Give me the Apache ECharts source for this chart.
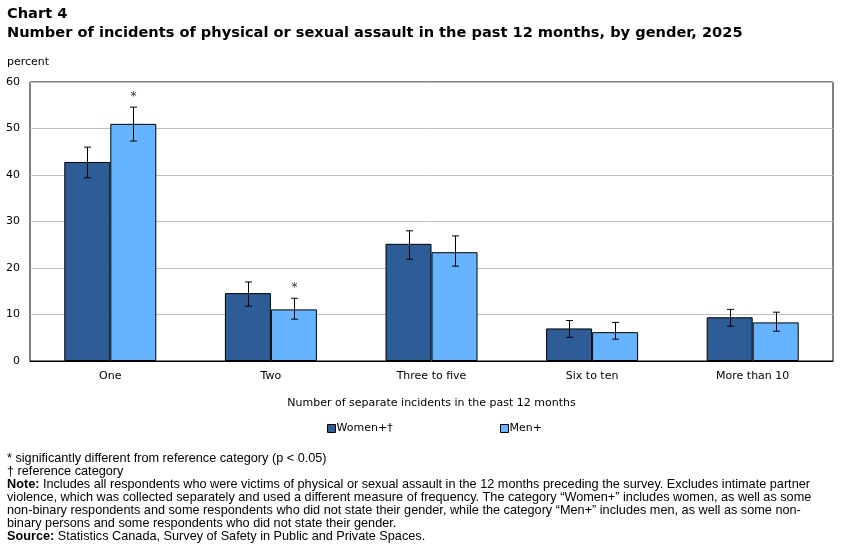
<!DOCTYPE html>
<html><head><meta charset="utf-8">
<script src="https://cdn.jsdelivr.net/npm/echarts@6/dist/echarts.min.js"></script>
<style>html,body{margin:0;padding:0;background:#fff}#c{width:850px;height:544px}</style>
</head><body><div id="c"></div>
<script>
const categories = ['One', 'Two', 'Three to five', 'Six to ten', 'More than 10'];
const women = [42.8, 14.6, 25.2, 7.0, 9.4];
const womenLow = [39.4, 11.8, 21.9, 5.1, 7.5];
const womenHigh = [46.0, 17.0, 28.0, 8.7, 11.1];
const men = [51.0, 11.1, 23.4, 6.2, 8.3];
const menLow = [47.3, 9.0, 20.4, 4.7, 6.4];
const menHigh = [54.6, 13.5, 26.9, 8.3, 10.5];
const menSig = ['*', '*', '', '', ''];
const yTicks = [0, 10, 20, 30, 40, 50, 60];

const BAR_W = 46;
const chart = echarts.init(document.getElementById('c'));

function errItem(offset, sig) {
  return function (params, api) {
    const i = api.value(0);
    const hi = api.coord([i, api.value(2)]);
    const lo = api.coord([i, api.value(1)]);
    const x = Math.round(hi[0] + offset) + 0.5;
    const cap = 3.5;
    const st = { stroke: '#000', lineWidth: 1 };
    const children = [
      { type: 'line', shape: { x1: x, y1: hi[1], x2: x, y2: lo[1] }, style: st },
      { type: 'line', shape: { x1: x - cap, y1: hi[1], x2: x + cap, y2: hi[1] }, style: st },
      { type: 'line', shape: { x1: x - cap, y1: lo[1], x2: x + cap, y2: lo[1] }, style: st }
    ];
    if (sig && sig[i]) {
      children.push({ type: 'text', style: { text: sig[i], x: x, y: hi[1] - 10.5, align: 'center', verticalAlign: 'middle', fill: '#333', font: '12px "DejaVu Sans"' } });
    }
    return { type: 'group', children: children };
  };
}

const noteFont = '"Liberation Sans", Arial, sans-serif';
const notes = [
  '* significantly different from reference category (p < 0.05)',
  '\u2020 reference category',
  '{b|Note:} Includes all respondents who were victims of physical or sexual assault in the 12 months preceding the survey. Excludes intimate partner',
  'violence, which was collected separately and used a different measure of frequency. The category \u201cWomen+\u201d includes women, as well as some',
  'non-binary respondents and some respondents who did not state their gender, while the category \u201cMen+\u201d includes men, as well as some non-',
  'binary persons and some respondents who did not state their gender.',
  '{b|Source:} Statistics Canada, Survey of Safety in Public and Private Spaces.'
];

const legendBase = {
  top: 418, orient: 'horizontal',
  itemWidth: 8, itemHeight: 8, icon: 'rect',
  itemStyle: { borderColor: '#000', borderWidth: 1 },
  textStyle: { fontSize: 11, color: '#000', padding: [0, 0, 0, -4] },
  selectedMode: false
};

chart.setOption({
  animation: false,
  textStyle: { fontFamily: '"DejaVu Sans", Verdana, sans-serif' },
  title: [
    { text: 'Chart 4', left: 7, top: 7, padding: 0, textStyle: { fontSize: 14.6, fontWeight: 'bold', color: '#000', fontFamily: '"DejaVu Sans", Verdana' } },
    { text: 'Number of incidents of physical or sexual assault in the past 12 months, by gender, 2025', left: 7, top: 26, padding: 0, textStyle: { fontSize: 14.6, fontWeight: 'bold', color: '#000', fontFamily: '"DejaVu Sans", Verdana' } }
  ],
  legend: [
    Object.assign({}, legendBase, { data: ['Women+\u2020'], left: 322 }),
    Object.assign({}, legendBase, { data: ['Men+'], left: 495 })
  ],
  grid: { left: 30, right: 17, top: 82, bottom: 183, show: true, borderColor: '#000', borderWidth: 1, containLabel: false },
  xAxis: {
    type: 'category', data: categories,
    axisLine: { lineStyle: { color: '#000' } }, axisTick: { show: false },
    axisLabel: { color: '#000', fontSize: 11, margin: 10 },
    name: 'Number of separate incidents in the past 12 months', nameLocation: 'middle', nameGap: 37,
    nameTextStyle: { color: '#000', fontSize: 11 }
  },
  yAxis: {
    type: 'value', min: 0, max: 60, interval: 10,
    axisLine: { show: false }, axisTick: { show: false },
    axisLabel: { color: '#000', fontSize: 11, margin: 10 },
    splitLine: { lineStyle: { color: '#c0c0c0', width: 1 } },
    name: 'percent', nameLocation: 'end', nameGap: 14,
    nameTextStyle: { color: '#000', fontSize: 11, align: 'left', padding: [0, 0, 0, -23] }
  },
  series: [
    { name: 'Women+\u2020', type: 'bar', data: women, barWidth: BAR_W, barGap: '0%',
      itemStyle: { color: '#2e5c96', borderColor: '#000', borderWidth: 1 } },
    { name: 'Men+', type: 'bar', data: men, barWidth: BAR_W, barGap: '0%',
      itemStyle: { color: '#66b3ff', borderColor: '#000', borderWidth: 1 } },
    { name: 'errW', type: 'custom', renderItem: errItem(-BAR_W / 2, null), z: 10,
      data: categories.map((c, i) => [i, womenLow[i], womenHigh[i]]) },
    { name: 'errM', type: 'custom', renderItem: errItem(BAR_W / 2, menSig), z: 10,
      data: categories.map((c, i) => [i, menLow[i], menHigh[i]]) }
  ],
  graphic: notes.map((t, i) => ({
    type: 'text', left: 7, top: 452 + i * 13,
    style: { text: t, font: '12.7px ' + noteFont, fill: '#000',
      rich: { b: { fontWeight: 'bold', fontSize: 12.7, fontFamily: noteFont } } }
  }))
});
</script></body></html>
